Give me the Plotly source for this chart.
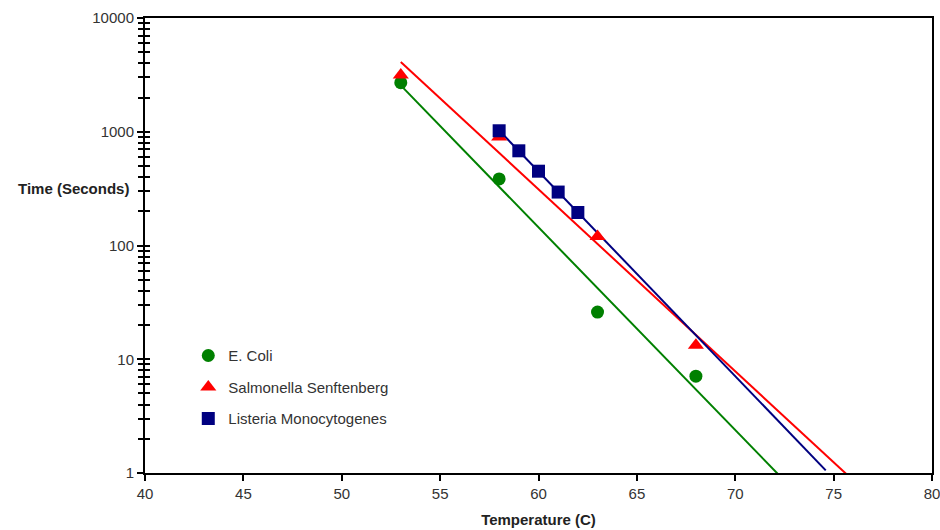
import numpy as np
import plotly.graph_objects as go

# Data
ecoli_temp = [53, 58, 63, 68]
ecoli_time = [2700, 385, 26, 7.1]
salm_temp = [53, 58, 63, 68]
salm_time = [3150, 900, 120, 13.3]
list_temp = [58, 59, 60, 61, 62]
list_time = [1020, 680, 450, 295, 195]

# Trendline extents (x range) for exponential fits
ecoli_fit_x = [53, 72.2]
salm_fit_x = [53, 76.0]
list_fit_x = [58, 74.6]

x_ticks = [40, 45, 50, 55, 60, 65, 70, 75, 80]
y_ticks = [1, 10, 100, 1000, 10000]
y_ticktext = ["1", "10", "100", "1000", "10000"]

GREEN = "#008000"
RED = "#FF0000"
NAVY = "#000080"
FONT = "Liberation Sans, Arial"


def expfit(xs, ys, xr):
    b, a = np.polyfit(xs, np.log10(ys), 1)
    xr = np.array(xr, dtype=float)
    return xr, 10 ** (a + b * xr)


fig = go.Figure()

for xs, ys, xr, col in [
    (ecoli_temp, ecoli_time, ecoli_fit_x, GREEN),
    (salm_temp, salm_time, salm_fit_x, RED),
    (list_temp, list_time, list_fit_x, NAVY),
]:
    fx, fy = expfit(xs, ys, xr)
    fig.add_trace(go.Scatter(x=fx, y=fy, mode="lines", line=dict(color=col, width=2),
                             showlegend=False, hoverinfo="skip"))

fig.add_trace(go.Scatter(x=ecoli_temp, y=ecoli_time, mode="markers", name="E. Coli",
                         legendgroup="a",
                         marker=dict(symbol="circle", size=13, color=GREEN)))
fig.add_trace(go.Scatter(x=salm_temp, y=salm_time, mode="markers", name="Salmonella Senftenberg",
                         legendgroup="b",
                         marker=dict(symbol="triangle-up", size=14, color=RED)))
fig.add_trace(go.Scatter(x=list_temp, y=list_time, mode="markers", name="Listeria Monocytogenes",
                         legendgroup="c",
                         marker=dict(symbol="square", size=13, color=NAVY)))

# invisible trace on second y-axis to make ticks cross the axis
fig.add_trace(go.Scatter(x=[x_ticks[0]], y=[y_ticks[0]], yaxis="y2", mode="markers",
                         marker=dict(opacity=0), showlegend=False, hoverinfo="skip"))

fig.update_layout(
    width=940, height=530,
    margin=dict(l=145, r=8, t=18, b=57),
    paper_bgcolor="white", plot_bgcolor="white",
    font=dict(family=FONT, size=15, color="#222"),
    showlegend=True,
    legend=dict(x=0.055, y=0.294, xanchor="left", yanchor="top",
                bgcolor="rgba(0,0,0,0)", traceorder="grouped", tracegroupgap=9,
                itemwidth=30, font=dict(size=15, color="#333")),
    xaxis=dict(range=[40, 80], tickvals=x_ticks, showgrid=False, zeroline=False,
               automargin=False, ticklabeloverflow="allow",
               showline=True, linecolor="black", linewidth=2, mirror=True,
               ticks="outside", ticklen=6, tickwidth=1.5, tickcolor="black",
               tickfont=dict(size=15, color="#333"),
               title=dict(text="<b>Temperature (C)</b>", font=dict(size=15, color="#222"), standoff=13)),
    yaxis=dict(type="log", range=[0, 4], tickvals=y_ticks, ticktext=y_ticktext,
               automargin=False, ticklabeloverflow="allow",
               showgrid=False, zeroline=False, showline=True, linecolor="black",
               linewidth=2, mirror=True, ticks="outside", ticklen=6, tickwidth=1.5,
               tickcolor="black", tickfont=dict(size=15, color="#333"),
               minor=dict(ticks="outside", ticklen=5, tickwidth=1.5, tickcolor="black",
                          dtick="D1", showgrid=False)),
    yaxis2=dict(type="log", range=[0, 4], overlaying="y", side="left", tickvals=y_ticks,
                automargin=False,
                showticklabels=False, showgrid=False, zeroline=False, showline=False,
                ticks="inside", ticklen=5, tickwidth=1.5, tickcolor="black",
                minor=dict(ticks="inside", ticklen=5, tickwidth=1.5, tickcolor="black",
                           dtick="D1", showgrid=False)),
    annotations=[dict(text="<b>Time (Seconds)</b>", xref="paper", yref="y", x=-0.018, y=2.5,
                      xanchor="right", yanchor="middle", showarrow=False,
                      font=dict(size=15, color="#222"))],
)

fig.write_html("out.html", config={"displayModeBar": False},
               post_script="document.body.style.margin='0px';document.body.style.overflow='hidden';")
